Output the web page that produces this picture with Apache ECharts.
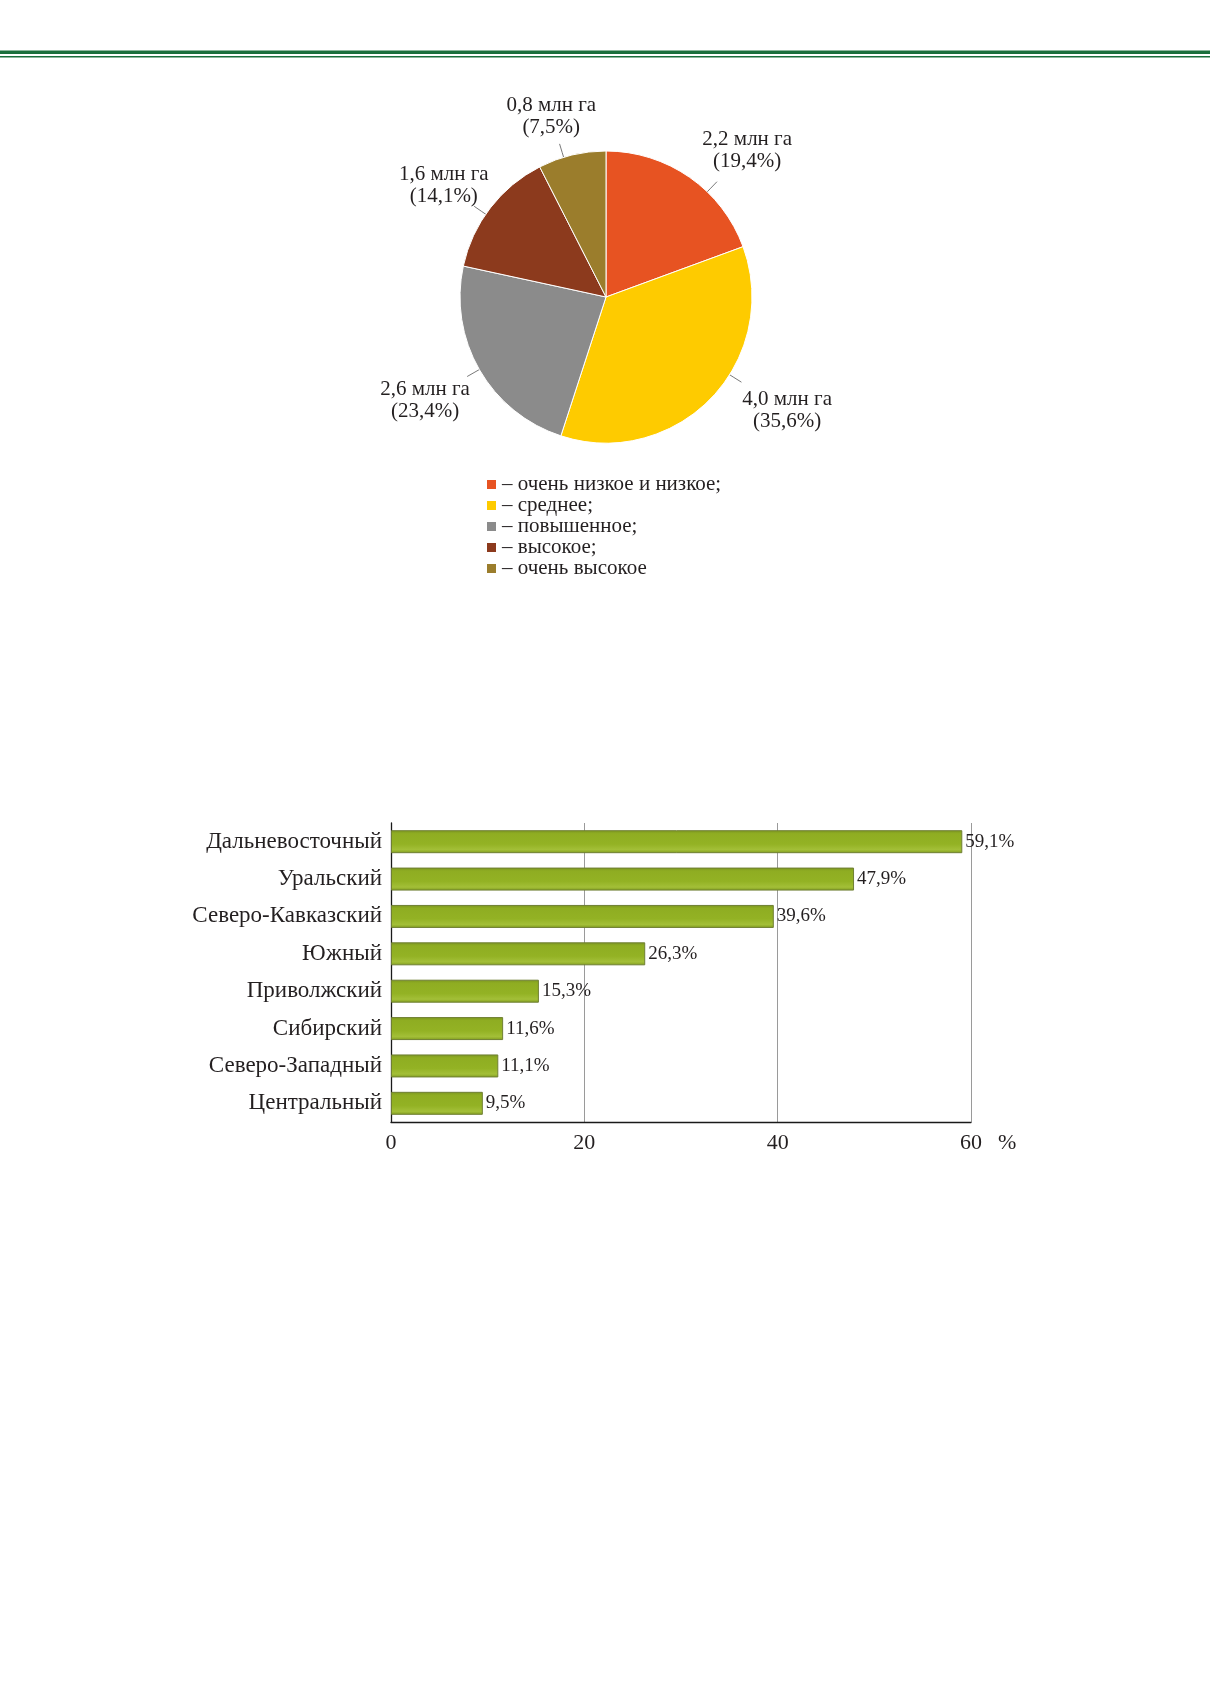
<!DOCTYPE html>
<html>
<head>
<meta charset="utf-8">
<script src="https://cdn.jsdelivr.net/npm/echarts@6/dist/echarts.min.js"></script>
<style>
html,body{margin:0;padding:0;background:#fff;}
#chart{width:1210px;height:1681px;}
</style>
</head>
<body>
<div id="chart"></div>
<script>
// ---------- DATA ----------
const pieCategories = ['очень низкое и низкое', 'среднее', 'повышенное', 'высокое', 'очень высокое'];
const pieAreaMha = [2.2, 4.0, 2.6, 1.6, 0.8];
const pieShares = [19.4, 35.6, 23.4, 14.1, 7.5];

const regions = ['Дальневосточный', 'Уральский', 'Северо-Кавказский', 'Южный', 'Приволжский', 'Сибирский', 'Северо-Западный', 'Центральный'];
const regionValues = [59.1, 47.9, 39.6, 26.3, 15.3, 11.6, 11.1, 9.5];

const xTicks = [0, 20, 40, 60];

// ---------- STYLE / LAYOUT ----------
const FONT = 'Liberation Serif';
const TEXT = '#231f20';
const pieColors = ['#e75322', '#fecb00', '#8b8b8b', '#8c3a1d', '#9b7d2c'];
const PIE_C = [606, 297];
const PIE_R = 146;
const LABEL_DIST = 50;
const LABEL_NUDGE = [[29, 14], [40, -22], [-11, 6], [-7, 8], [-9, 10]];

function fmt(v) { return v.toFixed(1).replace('.', ','); }

function pieLabelLayout(params) {
  const i = params.dataIndex;
  const total = pieShares.reduce((a, b) => a + b, 0);
  let before = 0;
  for (let j = 0; j < i; j++) before += pieShares[j];
  const mid = (before + pieShares[i] / 2) / total * 2 * Math.PI;
  const cx = PIE_C[0] + Math.sin(mid) * (PIE_R + LABEL_DIST) + LABEL_NUDGE[i][0];
  const cy = PIE_C[1] - Math.cos(mid) * (PIE_R + LABEL_DIST) + LABEL_NUDGE[i][1];
  const ang = Math.atan2(cx - PIE_C[0], -(cy - PIE_C[1]));
  const ex = Math.sin(ang), ey = -Math.cos(ang);
  const p0 = [PIE_C[0] + ex * (PIE_R - 3), PIE_C[1] + ey * (PIE_R - 3)];
  const p1 = [PIE_C[0] + ex * (PIE_R + 5), PIE_C[1] + ey * (PIE_R + 5)];
  const p2 = [PIE_C[0] + ex * (PIE_R + 14), PIE_C[1] + ey * (PIE_R + 14)];
  return { x: cx, y: cy, align: 'center', verticalAlign: 'middle', labelLinePoints: [p0, p1, p2] };
}

const chart = echarts.init(document.getElementById('chart'), null, { renderer: 'canvas' });

const option = {
  backgroundColor: '#ffffff',
  animation: false,
  color: pieColors,
  graphic: [
    { type: 'rect', shape: { x: 0, y: 50.5, width: 1210, height: 3.6 }, style: { fill: '#1b6e3c' }, silent: true },
    { type: 'rect', shape: { x: 0, y: 56, width: 1210, height: 1.6 }, style: { fill: '#1b6e3c' }, silent: true }
  ],
  legend: {
    orient: 'vertical',
    left: 485,
    top: 474,
    padding: 0,
    icon: 'rect',
    itemWidth: 11,
    itemHeight: 11,
    itemGap: 0,
    selectedMode: false,
    data: pieCategories,
    formatter: function (name) {
      const idx = pieCategories.indexOf(name);
      return '– ' + name + (idx < pieCategories.length - 1 ? ';' : '');
    },
    textStyle: { fontFamily: FONT, fontSize: 21, lineHeight: 19.7, color: TEXT }
  },
  grid: { left: 391, right: 239, top: 823, height: 299, containLabel: false },
  xAxis: {
    type: 'value',
    min: xTicks[0],
    max: xTicks[xTicks.length - 1],
    interval: xTicks[1] - xTicks[0],
    axisLine: { show: true, lineStyle: { color: '#1a1a1a', width: 1.3 } },
    axisTick: { show: false },
    splitLine: { show: true, lineStyle: { color: '#9a9a9a', width: 1 } },
    axisLabel: { fontFamily: FONT, fontSize: 22, color: TEXT, margin: 10 },
    name: '%',
    nameLocation: 'end',
    nameGap: 27,
    nameTextStyle: { fontFamily: FONT, fontSize: 22, color: TEXT, verticalAlign: 'top', padding: [10, 0, 0, 0] }
  },
  yAxis: {
    type: 'category',
    inverse: true,
    data: regions,
    axisLine: { show: true, lineStyle: { color: '#1a1a1a', width: 1.3 } },
    axisTick: { show: false },
    axisLabel: { fontFamily: FONT, fontSize: 23, color: TEXT, margin: 9 }
  },
  series: [
    {
      type: 'pie',
      center: PIE_C,
      radius: PIE_R,
      startAngle: 90,
      clockwise: true,
      avoidLabelOverlap: false,
      silent: true,
      data: pieCategories.map((n, i) => ({ name: n, value: pieShares[i], itemStyle: { color: pieColors[i] } })),
      itemStyle: { borderColor: '#ffffff', borderWidth: 1 },
      label: {
        show: true,
        position: 'outside',
        formatter: function (p) {
          return fmt(pieAreaMha[p.dataIndex]) + ' млн га\n(' + fmt(pieShares[p.dataIndex]) + '%)';
        },
        fontFamily: FONT,
        fontSize: 21,
        lineHeight: 22,
        color: TEXT
      },
      labelLine: { show: true, length: 10, length2: 0, lineStyle: { color: '#555555', width: 0.8 } },
      labelLayout: pieLabelLayout
    },
    {
      type: 'bar',
      data: regionValues,
      barWidth: 23,
      silent: true,
      itemStyle: {
        color: new echarts.graphic.LinearGradient(0, 0, 0, 1, [
          { offset: 0, color: '#7b9520' },
          { offset: 0.15, color: '#8fad22' },
          { offset: 0.6, color: '#93b224' },
          { offset: 0.85, color: '#a3bf38' },
          { offset: 1, color: '#809c1e' }
        ]),
        borderColor: '#6f7f33',
        borderWidth: 1
      },
      label: {
        show: true,
        position: 'right',
        distance: 3,
        formatter: function (p) { return fmt(p.value) + '%'; },
        fontFamily: FONT,
        fontSize: 19,
        color: TEXT
      }
    }
  ]
};

chart.setOption(option);
</script>
</body>
</html>
